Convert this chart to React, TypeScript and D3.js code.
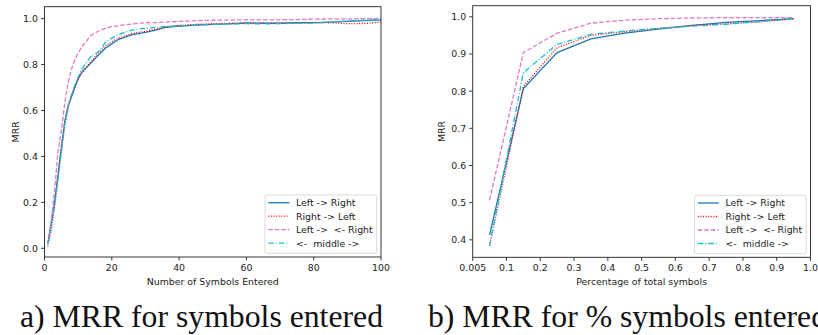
import React, { useEffect } from 'react';
import * as d3 from 'd3';

// left panel: MRR vs number of symbols entered
const symbolsX = [1, 2, 3, 4, 5, 6, 7, 8, 9, 10, 11, 12, 14, 16, 18, 20, 22, 24, 26, 28, 30, 33, 36, 40, 45, 50, 55, 60, 65, 70, 75, 80, 85, 90, 95, 100];
const symLeftRight = [0.02, 0.11, 0.20, 0.32, 0.44, 0.55, 0.62, 0.66, 0.70, 0.74, 0.765, 0.78, 0.81, 0.84, 0.87, 0.89, 0.91, 0.92, 0.93, 0.935, 0.94, 0.95, 0.962, 0.968, 0.972, 0.975, 0.977, 0.981, 0.98, 0.98, 0.982, 0.983, 0.985, 0.988, 0.991, 0.995];
const symRightLeft = [0.01, 0.08, 0.18, 0.30, 0.42, 0.53, 0.61, 0.66, 0.70, 0.735, 0.76, 0.78, 0.815, 0.85, 0.88, 0.90, 0.915, 0.925, 0.935, 0.94, 0.945, 0.955, 0.963, 0.97, 0.975, 0.978, 0.98, 0.981, 0.98, 0.981, 0.982, 0.983, 0.982, 0.978, 0.979, 0.985];
const symBoth = [0.02, 0.12, 0.25, 0.42, 0.51, 0.63, 0.72, 0.78, 0.82, 0.85, 0.875, 0.895, 0.93, 0.945, 0.958, 0.965, 0.97, 0.973, 0.977, 0.98, 0.982, 0.983, 0.985, 0.988, 0.991, 0.993, 0.994, 0.995, 0.995, 0.995, 0.996, 0.998, 0.999, 0.999, 1.0, 1.0];
const symMiddle = [0.02, 0.10, 0.19, 0.30, 0.42, 0.54, 0.62, 0.67, 0.71, 0.745, 0.775, 0.80, 0.84, 0.855, 0.895, 0.915, 0.93, 0.942, 0.95, 0.955, 0.958, 0.962, 0.966, 0.968, 0.972, 0.975, 0.977, 0.978, 0.977, 0.978, 0.98, 0.981, 0.985, 0.99, 0.993, 0.996];

// right panel: MRR vs percentage of total symbols
const pctX = [0.05, 0.15, 0.25, 0.35, 0.45, 0.55, 0.65, 0.75, 0.85, 0.95];
const pctLeftRight = [0.413, 0.807, 0.904, 0.941, 0.956, 0.967, 0.977, 0.985, 0.99, 0.995];
const pctRightLeft = [0.384, 0.813, 0.917, 0.95, 0.96, 0.969, 0.977, 0.981, 0.987, 0.994];
const pctBoth = [0.507, 0.904, 0.956, 0.983, 0.991, 0.995, 0.997, 0.998, 0.998, 0.998];
const pctMiddle = [0.384, 0.85, 0.926, 0.953, 0.962, 0.969, 0.975, 0.98, 0.987, 0.995];

const seriesNames = ['Left -> Right', 'Right -> Left', 'Left ->  <- Right', '<-  middle ->'];
const symXTicks = [0, 20, 40, 60, 80, 100];
const symYTicks = [0, 0.2, 0.4, 0.6, 0.8, 1.0];
const pctXTicks = [0, 0.1, 0.2, 0.3, 0.4, 0.5, 0.6, 0.7, 0.8, 0.9, 1.0];
const pctXTickLabels = ['0.005', '0.1', '0.2', '0.3', '0.4', '0.5', '0.6', '0.7', '0.8', '0.9', '1.0'];
const pctYTicks = [0.4, 0.5, 0.6, 0.7, 0.8, 0.9, 1.0];

const styles = [
  { color: '#1f77b4', dash: '' },
  { color: '#ff0000', dash: '1 1.6' },
  { color: '#e377c2', dash: '4.5 2' },
  { color: '#17becf', dash: '5.5 2 1 2' },
];

const FONT = 'DejaVu Sans, sans-serif';
const FS = 9.4;

type PanelProps = {
  x: number[];
  ys: number[][];
  xDomain: [number, number];
  yDomain: [number, number];
  left: number;
  right: number;
  top: number;
  bottom: number;
  xTicks: number[];
  xLabels: string[];
  yTicks: number[];
  xTitle: string;
  yTitleX: number;
};

const Panel: React.FC<PanelProps> = (p) => {
  const xs = d3.scaleLinear().domain(p.xDomain).range([p.left, p.right]);
  const ys = d3.scaleLinear().domain(p.yDomain).range([p.bottom, p.top]);
  const line = d3.line<[number, number]>().x(d => xs(d[0])).y(d => ys(d[1]));
  const fmt = d3.format('.1f');
  const lgW = 111.7, lgH = 58.3;
  const lgX = p.right - 4.3 - lgW;
  const lgY = p.bottom - 3.7 - lgH;
  return (
    <g>
      <defs>
        <clipPath id={`clip-${p.left}`}>
          <rect x={p.left} y={p.top} width={p.right - p.left} height={p.bottom - p.top} />
        </clipPath>
      </defs>
      <g clipPath={`url(#clip-${p.left})`}>
        {p.ys.map((vals, i) => (
          <path key={i} d={line(p.x.map((v, j) => [v, vals[j]]))!} fill="none"
            stroke={styles[i].color} strokeWidth={1.3} strokeDasharray={styles[i].dash || undefined} />
        ))}
      </g>
      <rect x={p.left} y={p.top} width={p.right - p.left} height={p.bottom - p.top}
        fill="none" stroke="#222" strokeWidth={0.9} />
      {p.xTicks.map((t, i) => (
        <g key={`x${i}`}>
          <line x1={xs(t)} x2={xs(t)} y1={p.bottom} y2={p.bottom + 3.5} stroke="#222" strokeWidth={0.9} />
          <text x={xs(t)} y={p.bottom + 13.5} textAnchor="middle" fontSize={FS} fontFamily={FONT} fill="#222">{p.xLabels[i]}</text>
        </g>
      ))}
      {p.yTicks.map((t, i) => (
        <g key={`y${i}`}>
          <line x1={p.left - 3.5} x2={p.left} y1={ys(t)} y2={ys(t)} stroke="#222" strokeWidth={0.9} />
          <text x={p.left - 6.5} y={ys(t)} dy="0.36em" textAnchor="end" fontSize={FS} fontFamily={FONT} fill="#222">{fmt(t)}</text>
        </g>
      ))}
      <text x={(p.left + p.right) / 2} y={p.bottom + 27.5} textAnchor="middle" fontSize={FS} fontFamily={FONT} fill="#222">{p.xTitle}</text>
      <text transform={`translate(${p.yTitleX},${(p.top + p.bottom) / 2}) rotate(-90)`} textAnchor="middle" fontSize={FS} fontFamily={FONT} fill="#222">MRR</text>
      <rect x={lgX} y={lgY} width={lgW} height={lgH} rx={2} fill="white" fillOpacity={0.8} stroke="#d0d0d0" strokeWidth={0.8} />
      {seriesNames.map((n, i) => {
        const cy = lgY + 7.7 + i * 13.5;
        return (
          <g key={n}>
            <line x1={lgX + 3.3} x2={lgX + 24.3} y1={cy} y2={cy} stroke={styles[i].color} strokeWidth={1.3}
              strokeDasharray={styles[i].dash || undefined} />
            <text x={lgX + 31} y={cy} dy="0.36em" fontSize={FS} fontFamily={FONT} fill="#222" style={{ whiteSpace: 'pre' }}>{n}</text>
          </g>
        );
      })}
    </g>
  );
};

export default function App() {
  useEffect(() => {
    document.body.style.margin = '0';
  }, []);
  return (
    <svg width={818} height={335} style={{ display: 'block', background: 'white' }}>
      <Panel x={symbolsX} ys={[symLeftRight, symRightLeft, symBoth, symMiddle]}
        xDomain={[0, 100]} yDomain={[-0.038, 1.052]} left={44.5} right={381} top={6.7} bottom={257}
        xTicks={symXTicks} xLabels={symXTicks.map(String)} yTicks={symYTicks}
        xTitle="Number of Symbols Entered" yTitleX={18.5} />
      <Panel x={pctX} ys={[pctLeftRight, pctRightLeft, pctBoth, pctMiddle]}
        xDomain={[0, 1]} yDomain={[0.353, 1.03]} left={472.7} right={810.5} top={5.7} bottom={257.3}
        xTicks={pctXTicks} xLabels={pctXTickLabels} yTicks={pctYTicks}
        xTitle="Percentage of total symbols" yTitleX={445} />
      <text x={20} y={327} fontSize={31} fontFamily="Liberation Serif, serif" fill="#111" textLength={363} lengthAdjust="spacingAndGlyphs">a) MRR for symbols entered</text>
      <text x={428} y={327} fontSize={31} fontFamily="Liberation Serif, serif" fill="#111" textLength={399} lengthAdjust="spacingAndGlyphs">b) MRR for % symbols entered</text>
    </svg>
  );
}
